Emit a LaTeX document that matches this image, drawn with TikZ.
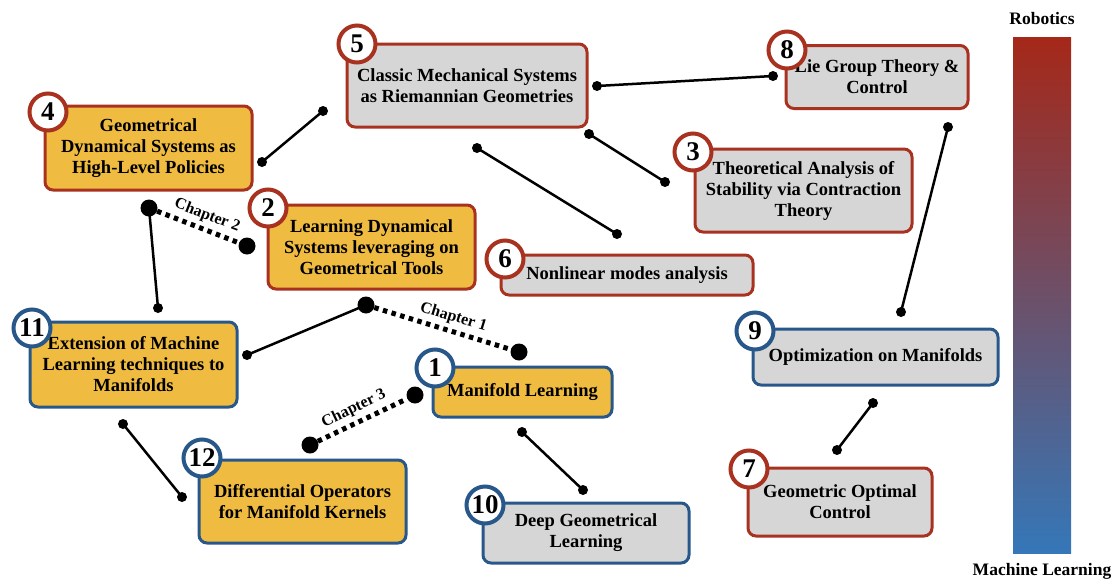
\documentclass[tikz,border=0pt]{standalone}
\usepackage{fontspec}
\setmainfont{Liberation Serif}
\definecolor{myred}{RGB}{168,50,31}
\definecolor{myblue}{RGB}{40,88,138}
\definecolor{myorange}{RGB}{239,188,65}
\definecolor{mygray}{RGB}{214,214,214}
\definecolor{barred}{RGB}{165,40,25}
\definecolor{barmid}{RGB}{102,70,100}
\definecolor{barblue}{RGB}{53,119,184}
\begin{document}
\begin{tikzpicture}[x=1pt,y=-1pt,
  box/.style={draw, line width=3pt, rounded corners=8pt, align=center, inner sep=0pt,
    font=\bfseries\fontsize{18.5}{21}\selectfont},
  rbox/.style={box, draw=myred},
  bbox/.style={box, draw=myblue},
  orng/.style={fill=myorange},
  gray/.style={fill=mygray},
  num/.style={circle, fill=white, line width=4pt, minimum size=37pt, inner sep=0pt,
    font=\bfseries\fontsize{27}{27}\selectfont},
  rnum/.style={num, draw=myred},
  bnum/.style={num, draw=myblue},
  dot/.style={circle, fill=black, inner sep=0pt, minimum size=10pt},
  bigdot/.style={circle, fill=black, inner sep=0pt, minimum size=17pt},
  link/.style={line width=2.5pt},
  chap/.style={line width=5pt, dash pattern=on 4.5pt off 4.5pt},
  chlabel/.style={sloped, above=3pt, inner sep=1pt, font=\bfseries\fontsize{16}{16}\selectfont}
]
\useasboundingbox (0,0) rectangle (1117,581);

% boxes
\node[rbox, orng, minimum width=207pt, minimum height=84pt] (b4) at (148.5,148)
  {Geometrical\\Dynamical Systems as\\High-Level Policies};
\node[rbox, gray, minimum width=240pt, minimum height=83pt] (b5) at (467,85.5)
  {Classic Mechanical Systems\\as Riemannian Geometries};
\node[rbox, gray, minimum width=182pt, minimum height=63pt] (b8) at (877,77)
  {Lie Group Theory \&\\Control};
\node[rbox, gray, minimum width=217pt, minimum height=83pt] (b3) at (803.5,190.5)
  {Theoretical Analysis of\\Stability via Contraction\\Theory};
\node[rbox, orng, minimum width=207pt, minimum height=84pt] (b2) at (371.5,247)
  {Learning Dynamical\\Systems leveraging on\\Geometrical Tools};
\node[rbox, gray, minimum width=252pt, minimum height=40pt] (b6) at (627,275)
  {Nonlinear modes analysis};
\node[bbox, orng, minimum width=207pt, minimum height=85pt] (b11) at (133.5,364.5)
  {Extension of Machine\\Learning techniques to\\Manifolds};
\node[bbox, orng, minimum width=179pt, minimum height=50pt] (b1) at (522.5,392)
  {Manifold Learning};
\node[bbox, orng, minimum width=207pt, minimum height=83pt] (b12) at (302.5,501.5)
  {Differential Operators\\for Manifold Kernels};
\node[bbox, gray, minimum width=206pt, minimum height=60pt] (b10) at (586,533)
  {Deep Geometrical\\Learning};
\node[bbox, gray, minimum width=245pt, minimum height=56pt] (b9) at (875.5,357)
  {Optimization on Manifolds};
\node[rbox, gray, minimum width=184pt, minimum height=68pt] (b7) at (840,502)
  {Geometric Optimal\\Control};

% number circles
\node[rnum] (n4) at (48,112) {4};
\node[rnum] (n5) at (357,44) {5};
\node[rnum] (n8) at (787,50) {8};
\node[rnum] (n3) at (693,152) {3};
\node[rnum] (n2) at (268,208) {2};
\node[rnum] (n6) at (505,259) {6};
\node[bnum] (n11) at (32,328) {11};
\node[bnum] (n1) at (435,368) {1};
\node[bnum] (n12) at (202,458) {12};
\node[bnum] (n10) at (485,505) {10};
\node[bnum] (n9) at (755,331) {9};
\node[rnum] (n7) at (749,469) {7};

% connector end dots
\node[dot] (d4a) at (262,162) {};
\node[dot] (d4b) at (323,111) {};
\node[dot] (d5a) at (597,86) {};
\node[dot] (d8a) at (773,76) {};
\node[dot] (d5b) at (589,134) {};
\node[dot] (d3a) at (665,182) {};
\node[dot] (d5c) at (477,148) {};
\node[dot] (d6a) at (617,234) {};
\node[dot] (d8b) at (948,127) {};
\node[dot] (d9a) at (901,312) {};
\node[dot] (d9b) at (873,403) {};
\node[dot] (d7a) at (837,450) {};
\node[bigdot] (c2a) at (149,208) {};
\node[bigdot] (c2b) at (247,246) {};
\node[dot] (d11a) at (158,308) {};
\node[dot] (d11b) at (247,355) {};
\node[bigdot] (c1a) at (366,305) {};
\node[bigdot] (c1b) at (519,352) {};
\node[bigdot] (c3a) at (415,395) {};
\node[bigdot] (c3b) at (310,445) {};
\node[dot] (d11c) at (123,424) {};
\node[dot] (d12a) at (182,497) {};
\node[dot] (d1a) at (522,432) {};
\node[dot] (d10a) at (583,490) {};

% connectors
\draw[link] (d4a.center) -- (d4b.center);
\draw[link] (d5a.center) -- (d8a.center);
\draw[link] (d5b.center) -- (d3a.center);
\draw[link] (d5c.center) -- (d6a.center);
\draw[link] (d8b.center) -- (d9a.center);
\draw[link] (d9b.center) -- (d7a.center);
\draw[link] (c2a.center) -- (d11a.center);
\draw[link] (d11b.center) -- (c1a.center);
\draw[link] (d11c.center) -- (d12a.center);
\draw[link] (d1a.center) -- (d10a.center);
\draw[chap] (c2a) -- node[chlabel, pos=0.55] {Chapter 2} (c2b);
\draw[chap] (c1a) -- node[chlabel, pos=0.55] {Chapter 1} (c1b);
\draw[chap] (c3b) -- node[chlabel, pos=0.47] {Chapter 3} (c3a);

% gradient bar
\shade[top color=barred, middle color=barmid, bottom color=barblue] (1013,37) rectangle (1071,553);
\node[font=\bfseries\fontsize{17.5}{17.5}\selectfont] (rob) at (1042,19) {Robotics};
\node[font=\bfseries\fontsize{17.5}{17.5}\selectfont] (mlr) at (1042,571) {Machine Learning};
\end{tikzpicture}
\end{document}
